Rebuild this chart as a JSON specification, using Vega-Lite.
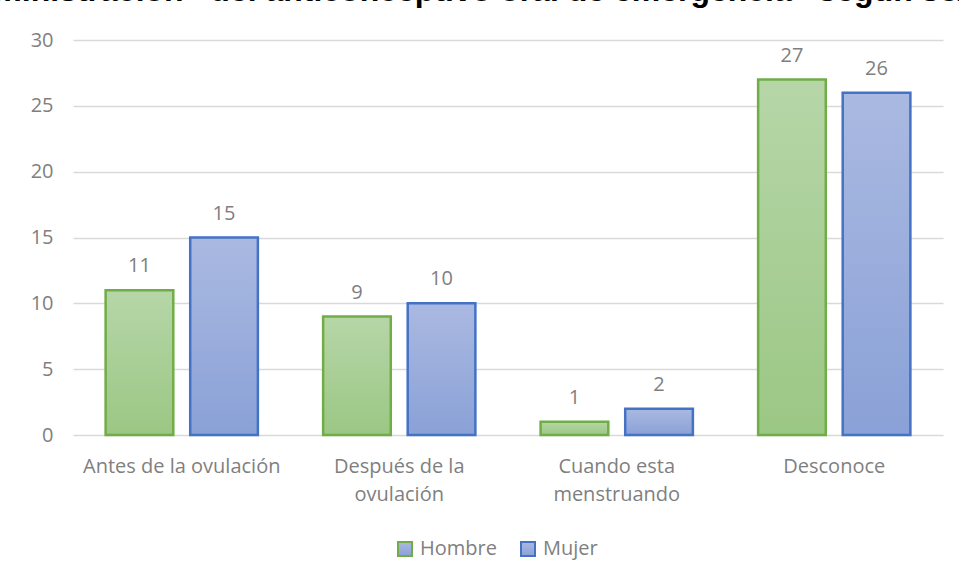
{
  "$schema": "https://vega.github.io/schema/vega-lite/v6.json",
  "width": 870,
  "height": 395,
  "autosize": {"type": "none"},
  "padding": {"left": 73, "top": 40, "right": 16, "bottom": 144},
  "background": "white",
  "title": {
    "text": "administración\u00a0\u00a0\u00a0del anticonceptivo oral de emergencia\u00a0\u00a0\u00a0según sexo",
    "anchor": "start",
    "frame": "group",
    "dx": -117,
    "dy": 3,
    "offset": 0,
    "baseline": "alphabetic",
    "font": "Liberation Sans",
    "fontSize": 32,
    "fontWeight": "bold",
    "color": "#000000"
  },
  "data": {
    "values": [
      {"momento": "Antes de la ovulación", "sexo": "Hombre", "n": 11},
      {"momento": "Antes de la ovulación", "sexo": "Mujer", "n": 15},
      {"momento": "Después de la ovulación", "sexo": "Hombre", "n": 9},
      {"momento": "Después de la ovulación", "sexo": "Mujer", "n": 10},
      {"momento": "Cuando esta menstruando", "sexo": "Hombre", "n": 1},
      {"momento": "Cuando esta menstruando", "sexo": "Mujer", "n": 2},
      {"momento": "Desconoce", "sexo": "Hombre", "n": 27},
      {"momento": "Desconoce", "sexo": "Mujer", "n": 26}
    ]
  },
  "config": {
    "view": {"stroke": null},
    "font": "Open Sans",
    "axis": {"labelColor": "#7F7F7F", "labelFontSize": 20, "labelFont": "Open Sans", "labelLimit": 0},
    "legend": {"labelColor": "#7F7F7F", "labelFontSize": 20, "labelFont": "Open Sans"}
  },
  "encoding": {
    "x": {
      "field": "momento",
      "type": "nominal",
      "sort": ["Antes de la ovulación", "Después de la ovulación", "Cuando esta menstruando", "Desconoce"],
      "scale": {"paddingInner": 0.3, "paddingOuter": 0.15},
      "axis": {
        "title": null,
        "labelAngle": 0,
        "domain": false,
        "ticks": false,
        "labelPadding": 21,
        "labelLineHeight": 28,
        "labelLimit": 0,
        "labelExpr": "datum.label == 'Después de la ovulación' ? ['Después de la', 'ovulación'] : datum.label == 'Cuando esta menstruando' ? ['Cuando esta', 'menstruando'] : datum.label"
      }
    },
    "xOffset": {
      "field": "sexo",
      "type": "nominal",
      "sort": ["Hombre", "Mujer"],
      "scale": {"paddingInner": 0.2, "paddingOuter": 0}
    },
    "y": {
      "field": "n",
      "type": "quantitative",
      "scale": {"domain": [0, 30]},
      "axis": {
        "title": null,
        "values": [0, 5, 10, 15, 20, 25, 30],
        "domain": false,
        "ticks": false,
        "labelPadding": 20,
        "gridColor": "#D9D9D9",
        "gridWidth": 1.3
      }
    }
  },
  "layer": [
    {
      "mark": {"type": "bar", "strokeWidth": 2.5},
      "encoding": {
        "fill": {
          "condition": {
            "test": "datum.sexo === 'Hombre'",
            "value": {
              "gradient": "linear", "x1": 0, "y1": 0, "x2": 0, "y2": 1,
              "stops": [{"offset": 0, "color": "#B6D6A8"}, {"offset": 1, "color": "#9BC784"}]
            }
          },
          "value": {
            "gradient": "linear", "x1": 0, "y1": 0, "x2": 0, "y2": 1,
            "stops": [{"offset": 0, "color": "#AAB9E1"}, {"offset": 1, "color": "#8AA1D7"}]
          }
        },
        "stroke": {
          "field": "sexo",
          "type": "nominal",
          "scale": {"domain": ["Hombre", "Mujer"], "range": ["#70AD47", "#4472C4"]},
          "legend": {
            "title": null,
            "orient": "none",
            "legendX": 322,
            "legendY": 499,
            "direction": "horizontal",
            "symbolType": "square",
            "symbolSize": 196,
            "symbolStrokeWidth": 2,
            "columnPadding": 20,
            "labelOffset": 5,
            "encode": {
              "symbols": {"update": {"fill": {"signal": "datum.value === 'Hombre' ? '#A9D08E' : '#9BAEDC'"}, "fillOpacity": {"value": 1}}}
            }
          }
        }
      }
    },
    {
      "mark": {"type": "text", "dy": -24, "fontSize": 20, "color": "#7F7F7F", "font": "Open Sans"},
      "encoding": {"text": {"field": "n", "type": "quantitative"}}
    }
  ]
}
